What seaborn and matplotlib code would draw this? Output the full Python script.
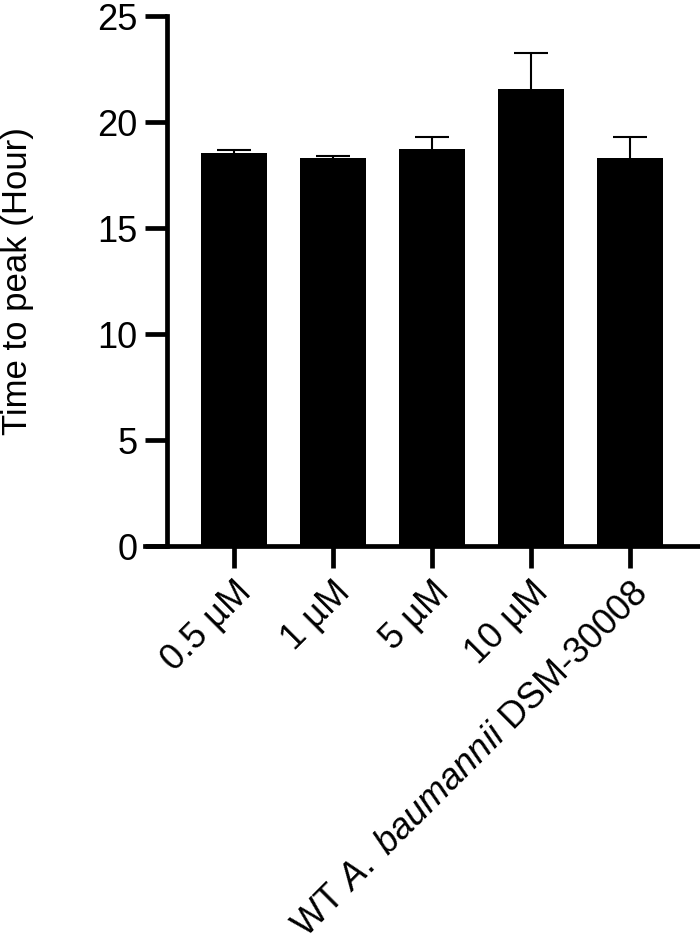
import numpy as np
import pandas as pd
import seaborn as sns
import matplotlib.pyplot as plt

groups = ['0.5 µM', '1 µM', '5 µM', '10 µM', 'WT $\\mathit{A.\\ baumannii}$ DSM-30008']
means = [18.54, 18.29, 18.71, 21.54, 18.29]
sems = [0.14, 0.12, 0.60, 1.70, 1.02]

sns.set_style('ticks')
plt.rcParams['font.family'] = ['Liberation Sans', 'DejaVu Sans']
plt.rcParams['mathtext.fontset'] = 'custom'
plt.rcParams['mathtext.rm'] = 'Liberation Sans'
plt.rcParams['mathtext.it'] = 'Liberation Sans:italic'
plt.rcParams['text.color'] = 'black'
plt.rcParams['axes.labelcolor'] = 'black'
plt.rcParams['xtick.color'] = 'black'
plt.rcParams['ytick.color'] = 'black'
plt.rcParams['axes.edgecolor'] = 'black'

df = pd.DataFrame({'group': groups, 'mean': means, 'sem': sems})

fig = plt.figure(figsize=(7, 9.43), dpi=100)
ax = fig.add_axes([145 / 700, (943 - 546) / 943, (698 - 145) / 700, 530 / 943])

sns.barplot(data=df, x='group', y='mean', color='black', saturation=1,
            width=0.667, errorbar=None, ax=ax, zorder=2)
for p in ax.patches:
    p.set_linewidth(0)

# upper-only error bars, drawn behind the bars
x = np.arange(len(groups))
eb = ax.errorbar(x, df['mean'], yerr=[np.zeros(len(sems)), df['sem']], fmt='none',
                 ecolor='black', elinewidth=1.5, capsize=12, capthick=1.5, zorder=1)
eb[1][0].remove()

ax.set_xlim(-0.899, 4.687)
ax.set_ylim(0, 25)
ax.set_yticks([0, 5, 10, 15, 20, 25])
sns.despine(ax=ax)
ax.spines['left'].set_position(('data', -0.677))
for s in ['left', 'bottom']:
    ax.spines[s].set_linewidth(3.4)
ax.tick_params(axis='both', width=3.4, length=16, labelsize=26)
ax.tick_params(axis='y', pad=5)
ax.tick_params(axis='x', pad=5)
plt.setp(ax.get_xticklabels(), rotation=45, ha='right', rotation_mode='anchor')

ax.set_xlabel('')
ax.set_ylabel('Time to peak (Hour)', fontsize=25, labelpad=46)

fig.savefig('out.png', dpi=100)
